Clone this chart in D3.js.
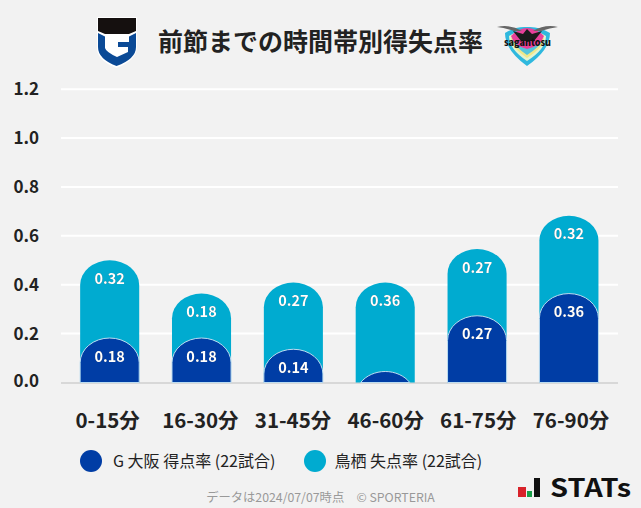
<!DOCTYPE html>
<html><head><meta charset="utf-8">
<script src="https://cdn.jsdelivr.net/npm/d3@7"></script>
<style>
html,body{margin:0;padding:0;background:#f2f2f2;overflow:hidden}
text{font-family:"Noto Sans CJK JP","Noto Sans",sans-serif}
</style></head><body><svg id="c" width="641" height="508"></svg>
<script>
const categories=["0-15分","16-30分","31-45分","46-60分","61-75分","76-90分"];
const scored=[0.182,0.182,0.136,0.045,0.273,0.364];
const conceded=[0.318,0.182,0.273,0.364,0.273,0.318];
const yTicks=[0,0.2,0.4,0.6,0.8,1.0,1.2];
const titleText="前節までの時間帯別得失点率";
const legendLabels=["G 大阪 得点率 (22試合)","鳥栖 失点率 (22試合)"];
const footerText="データは2024/07/07時点　© SPORTERIA";
const BLUE="#003da5",TEAL="#00abd0",INK="#222";
const svg=d3.select("#c");
svg.append("rect").attr("width",641).attr("height",508).attr("fill","#f2f2f2");
const y=d3.scaleLinear().domain([0,1.2]).range([382.5,89.2]);
const x=d3.scaleBand().domain(categories).range([63.8,614.8]).paddingInner(0.357).paddingOuter(0.178);
const xLabel=d3.scalePoint().domain(categories).range([107.7,571]);
svg.append("g").selectAll("line").data(yTicks.slice(1)).join("line")
 .attr("x1",61).attr("x2",618).attr("y1",d=>y(d)).attr("y2",d=>y(d)).attr("stroke","#fff").attr("stroke-width",2);
svg.append("line").attr("x1",61).attr("x2",618).attr("y1",383).attr("y2",383).attr("stroke","#d8d8d8").attr("stroke-width",2);
svg.append("g").selectAll("text").data(yTicks).join("text")
 .attr("x",39).attr("y",d=>y(d)+(d===0?4.5:6)).attr("text-anchor","end").attr("font-size",17).attr("font-weight",700).attr("fill",INK)
 .text(d=>d.toFixed(1));
const RY=24.7;
function cap(cat,top){
  const l=x(cat),w=x.bandwidth(),r=l+w,b=y(0),rx=w/2,sh=top+RY;
  if(sh<=b) return `M${l},${b}V${sh}A${rx},${RY} 0 0 1 ${r},${sh}V${b}Z`;
  const dx=rx*Math.sqrt(1-((b-sh)/RY)**2);
  return `M${l+rx-dx},${b}A${rx},${RY} 0 0 1 ${l+rx+dx},${b}Z`;
}
const rows=categories.map((c,i)=>({c,s:scored[i],k:conceded[i]}));
const g=svg.append("g");
g.selectAll("path.k").data(rows).join("path").attr("class","k")
 .attr("d",d=>cap(d.c,y(d.s+d.k))).attr("fill",TEAL);
g.selectAll("path.s").data(rows).join("path").attr("class","s")
 .attr("d",d=>cap(d.c,y(d.s))).attr("fill",BLUE).attr("stroke","#bcdcf0").attr("stroke-width",1);
function lbl(sel){sel.attr("text-anchor","middle").attr("font-size",14.5).attr("font-weight",700).attr("fill","#fff")
 .attr("style","filter:drop-shadow(0.6px 0.6px 0.4px rgba(0,0,0,.6))");}
g.selectAll("text.k").data(rows).join("text").attr("class","k")
 .attr("x",d=>x(d.c)+x.bandwidth()/2).attr("y",d=>y(d.s+d.k)+23.5).text(d=>d.k.toFixed(2)).call(lbl);
g.selectAll("text.s").data(rows.filter(d=>d.s>=0.1)).join("text").attr("class","s")
 .attr("x",d=>x(d.c)+x.bandwidth()/2).attr("y",d=>y(d.s)+23.5).text(d=>d.s.toFixed(2)).call(lbl);
svg.append("g").selectAll("text").data(categories).join("text")
 .attr("x",d=>xLabel(d)).attr("y",428).attr("text-anchor","middle")
 .attr("font-size",20.5).attr("font-weight",700).attr("fill",INK).text(d=>d);
svg.append("text").attr("x",320.5).attr("y",51).attr("text-anchor","middle").attr("font-size",25).attr("font-weight",700).attr("fill",INK).text(titleText);
[[91,BLUE,113],[315,TEAL,334.5]].forEach((p,i)=>{
 svg.append("circle").attr("cx",p[0]).attr("cy",461).attr("r",11).attr("fill",p[1]);
 svg.append("text").attr("x",p[2]).attr("y",466.5).attr("font-size",16).attr("fill",INK).text(legendLabels[i]);
});
svg.append("text").attr("x",320.5).attr("y",502).attr("text-anchor","middle").attr("font-size",12.3).attr("fill","#999").text(footerText);
// Gamba badge
const gb=svg.append("g");
gb.append("path").attr("d","M97,17H137V47Q137,60 116.5,68Q96,60 97,47Z").attr("fill","#fff");
gb.append("path").attr("d","M98,18H136V31L129,34H105L98,31Z").attr("fill","#15100f");
gb.append("path").attr("d","M98,33L105,36.5V48Q106,52 117,57L128,52V47H118V42H129V36.5L136,33V47Q136,59 116.5,66Q98,59 98,47Z").attr("fill","#0b4a96");
// Sagan badge
const sb=svg.append("g");
sb.append("path").attr("d","M505,33Q516,26 527,27Q539,26 550,33Q550,50 527,66Q505,50 505,33Z").attr("fill","#2fb8de");
sb.append("path").attr("d","M509,36Q518,30 527,31Q537,30 546,36Q546,49 527,61Q509,49 509,36Z").attr("fill","#e4f3d0");
sb.append("path").attr("d","M511,38Q519,32 527,32Q536,32 544,38Q544,47 527,58Q511,47 511,38Z").attr("fill","#f0e88a");
sb.append("path").attr("d","M513,40Q520,34 527,34Q535,34 542,40Q541,46 527,55Q514,46 513,40Z").attr("fill","#55c4dc");
sb.append("path").attr("d","M511,36Q519,28 527,28Q536,28 544,36Q541,46 527,49Q514,46 511,36Z").attr("fill","#e8409a");
sb.append("path").attr("d","M497,27Q510,24 522,31L514,31Q505,28 497,27ZM558,27Q545,24 533,31L541,31Q550,28 558,27Z").attr("fill","#666");
sb.append("path").attr("d","M513,31L523,34L527,29L532,34L542,31L534,41H521Z").attr("fill","#1c1c1c");
sb.append("text").attr("x",527.5).attr("y",46).attr("text-anchor","middle").attr("font-size",9.5).attr("font-weight",900).attr("fill","#111").attr("textLength",47).attr("lengthAdjust","spacingAndGlyphs").text("sagantosu");
// STATS logo
const st=svg.append("g");
st.append("rect").attr("x",518).attr("y",487).attr("width",8).attr("height",10).attr("fill","#d8232a");
st.append("rect").attr("x",527).attr("y",491).attr("width",5).attr("height",6).attr("fill","#1aa04a");
st.append("rect").attr("x",534).attr("y",478).attr("width",6).attr("height",19).attr("fill","#111");
st.append("text").attr("x",550).attr("y",497).attr("font-family","Liberation Sans").attr("font-size",25).attr("font-weight",700).attr("fill","#111").attr("textLength",81).attr("lengthAdjust","spacingAndGlyphs").text("STATs");
</script></body></html>
